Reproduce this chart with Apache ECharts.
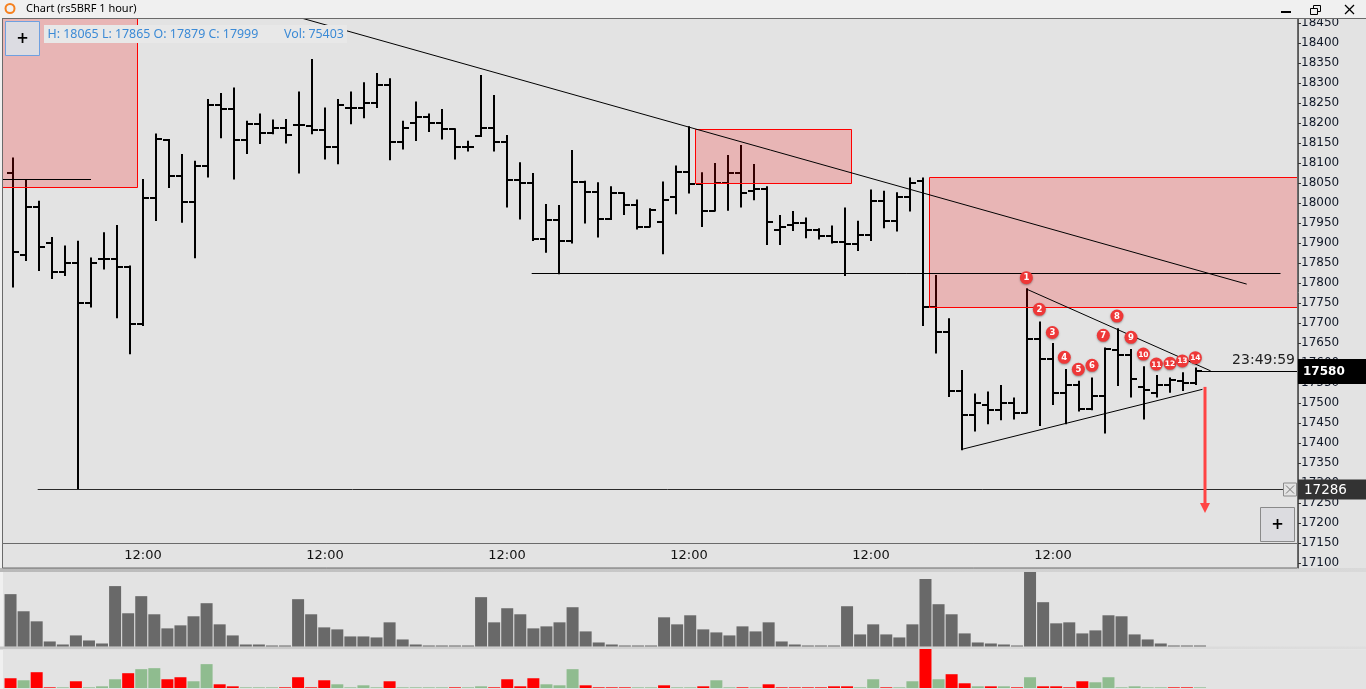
<!DOCTYPE html>
<html><head><meta charset="utf-8">
<script src="https://cdn.jsdelivr.net/npm/echarts@6/dist/echarts.min.js"></script>
<style>html,body{margin:0;padding:0;background:#f0f0f0;overflow:hidden}#c{width:1366px;height:689px}</style>
</head><body><div id="c"></div>
<script>
// ---------- DATA ----------
const times = [
 '16:00','17:00','18:00','19:00','20:00','21:00','22:00','23:00',
 '10:00','11:00','12:00','13:00','14:00','15:00','16:00','17:00','18:00','19:00','20:00','21:00','22:00','23:00',
 '10:00','11:00','12:00','13:00','14:00','15:00','16:00','17:00','18:00','19:00','20:00','21:00','22:00','23:00',
 '10:00','11:00','12:00','13:00','14:00','15:00','16:00','17:00','18:00','19:00','20:00','21:00','22:00','23:00',
 '10:00','11:00','12:00','13:00','14:00','15:00','16:00','17:00','18:00','19:00','20:00','21:00','22:00','23:00',
 '10:00','11:00','12:00','13:00','14:00','15:00','16:00','17:00','18:00','19:00','20:00','21:00','22:00','23:00',
 '10:00','11:00','12:00','13:00','14:00','15:00','16:00','17:00','18:00','19:00','20:00','21:00','22:00','23:00'
];
const opens = [18077,17871,17992,17901,17829,17852,17750,17860,17862,17842,
 17698,18014,18158,18068,18004,18094,18246,18236,18158,18198,
 18177,18188,18196,18194,18183,18142,18239,18238,18250,18296,
 18154,18202,18215,18202,18185,18142,18168,18189,18154,18058,
 18052,17912,17958,17907,18054,18029,17961,18025,17996,17942,
 17954,18015,18079,18048,17982,18052,18077,18032,18037,17933,
 17946,17952,17933,17919,17904,17898,17921,18007,17957,18015,
 18057,17742,17679,17532,17471,17496,17483,17500,17477,17662,
 17610,17527,17546,17487,17518,17633,17621,17540,17527,17546,
 17557,17552];
const highs = [18112,18058,18004,17913,17892,17904,17862,17925,17943,17842,
 18058,18172,18158,18121,18104,18258,18273,18287,18204,18222,
 18207,18208,18277,18358,18237,18258,18277,18300,18323,18310,
 18204,18252,18222,18233,18185,18154,18318,18268,18168,18100,
 18073,17996,17993,18131,18054,18050,18040,18025,18007,17985,
 18052,18092,18190,18075,18098,18118,18143,18096,18040,17968,
 17978,17962,17935,17942,17987,17954,18032,18029,18025,18062,
 18062,17818,17710,17581,17522,17527,17543,17512,17785,17702,
 17648,17583,17554,17562,17637,17685,17633,17590,17568,17562,
 17575,17587];
const lows = [17792,17858,17833,17813,17821,17286,17742,17837,17715,17625,
 17696,17958,18041,17954,17865,18067,18165,18062,18126,18151,
 18175,18152,18077,18175,18112,18100,18200,18215,18241,18110,
 18137,18158,18181,18162,18112,18132,18168,18132,17992,17962,
 17908,17879,17825,17902,17952,17917,17961,17973,17937,17942,
 17875,17975,18027,17943,17982,17984,17992,18010,17898,17898,
 17933,17915,17912,17902,17821,17883,17908,17940,17932,17982,
 17696,17627,17518,17385,17432,17450,17460,17462,17477,17446,
 17498,17450,17482,17485,17427,17546,17517,17462,17517,17529,
 17533,17548];
const closes = [17879,17992,17892,17829,17852,17750,17852,17862,17842,17698,
 18014,18160,18068,18004,18094,18246,18236,18158,18198,18177,
 18188,18171,18196,18183,18142,18246,18238,18250,18296,18154,
 18188,18215,18202,18185,18142,18142,18188,18154,18058,18052,
 17912,17958,17907,18054,18029,17961,18025,17996,17942,17983,
 18008,18079,18048,17982,18052,18077,18027,18037,17954,17942,
 17952,17933,17919,17904,17898,17921,18007,17957,18015,18052,
 17742,17679,17532,17471,17500,17483,17500,17477,17662,17610,
 17527,17546,17487,17518,17635,17621,17562,17533,17546,17558,
 17552,17580];
const volumes = [53040,35700,25500,5100,2040,11220,6120,3060,61200,33660,
 51000,32640,18360,21420,30600,43860,22440,11220,2040,2040,
 1020,1020,47940,32640,19380,17340,10200,10200,9180,24480,
 7140,2040,1020,1020,1020,1020,49980,24480,38760,32640,
 18360,20400,24480,39780,15300,4080,2040,1020,1020,1020,
 29580,22440,31620,17340,14280,11220,20400,15300,24480,5100,
 2040,1020,1020,1020,40800,12240,22440,12240,9180,22440,
 68340,42840,32640,13260,4080,3060,2040,1020,75480,44880,
 23460,24480,13260,16320,31620,30600,12240,7140,3060,1020,
 1020,1020];
const deltas = [-4350,3450,-7050,-300,300,-3000,300,750,3900,-6600,
 8400,8850,-3900,-4800,3000,10650,-1650,-750,300,300,
 300,-300,-4800,-300,-3450,1650,300,1200,300,-3000,
 300,300,300,300,-300,300,750,-300,-3900,-750,
 -4350,1650,1200,8400,-1200,-300,-300,-300,300,300,
 -1200,300,300,-750,3450,300,-300,300,-1650,-300,
 -300,-300,-300,-750,-750,300,3900,-300,300,3000,
 -17400,3900,-6150,-2100,750,-750,750,-300,4800,-750,
 -750,-300,-3000,2550,4800,300,750,300,300,-300,
 -300,300];
const priceTicks = [17100,17150,17200,17250,17300,17350,17400,17450,17500,17550,17600,17650,17700,17750,
 17800,17850,17900,17950,18000,18050,18100,18150,18200,18250,18300,18350,18400,18450];
const timeTicks = [10,24,38,52,66,80];
// drawings: [barFrom, barTo, priceLow, priceHigh]
const zones = [[-1,9.52,18040,18500],[52.48,64.48,18050,18185],[70.48,99.5,17741,18065]];
// segments: [bar1, price1, bar2, price2]
const segments = [
 [21.0,18474,94.9,17798],
 [39.9,17825,97.5,17825],
 [-1,18062,6.0,18062],
 [78.0,17785,92.13,17581],
 [73.0,17385,91.5,17535]
];
const supportLevel = 17286;
const lastPrice = 17580;
const countdown = '23:49:59';
const markerBars = [77.95,78.95,79.95,80.87,81.95,83.0,83.87,84.92,86.0,86.95,87.95,89.0,89.95,90.95];
const markerPrices = [17814,17735,17677,17615,17585,17595,17670,17718,17665,17623,17598,17600,17606,17614];
const markerLabels = ['1','2','3','4','5','6','7','8','9','10','11','12','13','14'];
const arrowPlan = [91.7,17541,17226];
const infoText = 'H: 18065 L: 17865 O: 17879 C: 17999';
const volText = 'Vol: 75403';
const titleText = 'Chart (rs5BRF 1 hour)';

// ---------- CHART ----------
const chart = echarts.init(document.getElementById('c'), null, {renderer:'canvas'});
const PL = 3, PW = 1294;
const xMin = (PL - 13) / 13, xMax = (PL + PW - 13) / 13;

const ohlcData = opens.map((o,i)=>[i,o,highs[i],lows[i],closes[i]]);
const volData = volumes.map((v,i)=>[i,v]);
const deltaData = deltas.map((d,i)=>({value:[i,Math.abs(d)], itemStyle:{color: d<0 ? '#ff0000' : '#8fbc8f'}}));

function clipRect(params){ const c = params.coordSys; return {x:c.x, y:c.y, width:c.width, height:c.height}; }

const graphics = [
 {type:'rect', z:-20, shape:{x:0,y:0,width:1366,height:689}, style:{fill:'#f0f0f0'}},
 {type:'rect', z:-10, shape:{x:3,y:18,width:1363,height:550}, style:{fill:'#e3e3e3'}},
 {type:'rect', z:-10, shape:{x:0,y:568,width:1366,height:4}, style:{fill:new echarts.graphic.LinearGradient(0,0,1,0,[{offset:0,color:'#b9b9b9'},{offset:1,color:'#d9d9d9'}])}},
 {type:'rect', z:-10, shape:{x:3,y:572,width:1363,height:75}, style:{fill:'#e3e3e3'}},
 {type:'rect', z:-10, shape:{x:0,y:646.5,width:1366,height:3}, style:{fill:new echarts.graphic.LinearGradient(0,0,1,0,[{offset:0,color:'#c4c4c4'},{offset:1,color:'#dedede'}])}},
 {type:'rect', z:-10, shape:{x:3,y:649.5,width:1363,height:40}, style:{fill:'#e3e3e3'}},
 // borders
 {type:'rect', z:50, silent:true, shape:{x:2.5,y:18.5,width:1295,height:525}, style:{fill:'none',stroke:'#6a6a6a',lineWidth:1}},
 {type:'rect', z:50, silent:true, shape:{x:2.5,y:543.5,width:1295,height:24.5}, style:{fill:'none',stroke:'#6a6a6a',lineWidth:1}},
 // title bar
 {type:'rect', z:40, shape:{x:0,y:0,width:1366,height:18}, style:{fill:'#f0f0f0'}},
 {type:'line', z:41, shape:{x1:2,y1:18.5,x2:1366,y2:18.5}, style:{stroke:'#6a6a6a',lineWidth:1}},
 {type:'circle', z:41, shape:{cx:10,cy:8.5,r:4.5}, style:{fill:'none',stroke:'#f5801e',lineWidth:2}},
 {type:'text', z:41, style:{text:titleText,x:26,y:8.5,verticalAlign:'middle',fill:'#000',fontSize:11,fontFamily:'Noto Sans'}},
 {type:'rect', z:41, shape:{x:1281,y:11,width:10,height:2}, style:{fill:'#000'}},
 {type:'rect', z:41, shape:{x:1313.5,y:5.5,width:7,height:6}, style:{fill:'none',stroke:'#000',lineWidth:1}},
 {type:'rect', z:42, shape:{x:1310.5,y:8.5,width:7,height:6}, style:{fill:'#f0f0f0',stroke:'#000',lineWidth:1}},
 {type:'line', z:41, shape:{x1:1345,y1:5,x2:1354,y2:14}, style:{stroke:'#000',lineWidth:1.2}},
 {type:'line', z:41, shape:{x1:1354,y1:5,x2:1345,y2:14}, style:{stroke:'#000',lineWidth:1.2}},
 // info box
 {type:'rect', z:45, shape:{x:44,y:25,width:303,height:18}, style:{fill:'#e8e8e8'}},
 {type:'text', z:46, style:{text:infoText,x:47.5,y:34,verticalAlign:'middle',fill:'#3b8ad6',fontSize:12.4,fontFamily:'Noto Sans'}},
 {type:'text', z:46, style:{text:volText,x:284,y:34,verticalAlign:'middle',fill:'#3b8ad6',fontSize:12.4,fontFamily:'Noto Sans'}},
 // + buttons
 {type:'rect', z:45, shape:{x:5.5,y:21.5,width:34,height:34}, style:{fill:'#dcdce2',stroke:'#6fa0e0',lineWidth:1}},
 {type:'text', z:46, style:{text:'+',x:22.5,y:39,align:'center',verticalAlign:'middle',fill:'#000',fontSize:15,fontWeight:'bold',fontFamily:'DejaVu Sans'}},
 {type:'rect', z:45, shape:{x:1260.5,y:507.5,width:34,height:34}, style:{fill:'#dcdce0',stroke:'#8a8a8a',lineWidth:1}},
 {type:'text', z:46, style:{text:'+',x:1277.5,y:525,align:'center',verticalAlign:'middle',fill:'#000',fontSize:15,fontWeight:'bold',fontFamily:'DejaVu Sans'}}
];

const option = {
 animation:false,
 backgroundColor:'#f0f0f0',
 graphic:{elements:graphics},
 grid:[
  {left:PL, top:17, width:PW, height:551, show:false},
  {left:4, top:572, width:1294, height:74.5, show:false},
  {left:4, top:649, width:1294, height:39, show:false}
 ],
 xAxis:[
  {type:'value', gridIndex:0, min:xMin, max:xMax, position:'bottom', offset:-25,
   axisLine:{show:false, onZero:false}, axisTick:{show:false}, splitLine:{show:false},
   axisLabel:{customValues:timeTicks, formatter:(v)=>times[Math.round(v)], margin:6, fontSize:13, color:'#111', fontFamily:'DejaVu Sans'}},
  {type:'value', gridIndex:1, min:-0.5, max:98.5, show:false},
  {type:'value', gridIndex:2, min:-0.5, max:98.5, show:false}
 ],
 yAxis:[
  {type:'value', gridIndex:0, position:'right', offset:1, min:17088.25, max:18465.75, scale:true,
   axisLine:{show:true, onZero:false, lineStyle:{color:'#5a5a5a', width:1}},
   axisTick:{show:true, length:3, customValues:priceTicks, lineStyle:{color:'#333'}},
   axisLabel:{customValues:priceTicks, formatter:(v)=>String(Math.round(v)), margin:3, fontSize:12, color:'#101828', fontFamily:'DejaVu Sans'},
   splitLine:{show:false}},
  {type:'value', gridIndex:1, min:0, max:75480, show:false},
  {type:'value', gridIndex:2, min:0, max:17400, show:false}
 ],
 series:[
  {type:'custom', name:'OHLC', xAxisIndex:0, yAxisIndex:0, z:3, clip:true,
   encode:{x:0, y:[1,2,3,4]}, data:ohlcData,
   renderItem:(params, api)=>{
     const i = api.value(0);
     const pO = api.coord([i, api.value(1)]), pH = api.coord([i, api.value(2)]);
     const pL = api.coord([i, api.value(3)]), pC = api.coord([i, api.value(4)]);
     const x = Math.round(pH[0]);
     const st = {stroke:'#000', lineWidth:2};
     const yo = Math.round(pO[1]), yc = Math.round(pC[1]);
     return {type:'group', children:[
       {type:'line', shape:{x1:x,y1:pH[1]-1,x2:x,y2:pL[1]+1}, style:st},
       {type:'line', shape:{x1:x-6,y1:yo,x2:x,y2:yo}, style:st},
       {type:'line', shape:{x1:x,y1:yc,x2:x+6,y2:yc}, style:st}
     ]};
   }},
  {type:'custom', name:'zones', xAxisIndex:0, yAxisIndex:0, z:4, clip:true, silent:true,
   data:zones,
   renderItem:(params, api)=>{
     const a = api.coord([api.value(0), api.value(3)]);
     const b = api.coord([api.value(1), api.value(2)]);
     const x = Math.round(a[0])+0.5, y = Math.round(a[1])+0.5;
     return {type:'rect', clipPath:{type:'rect', shape:clipRect(params)},
       shape:{x:x, y:y, width:Math.round(b[0]-a[0]), height:Math.round(b[1]-a[1])},
       style:{fill:'rgba(255,0,0,0.2)', stroke:'#ff0000', lineWidth:1}};
   }},
  {type:'custom', name:'lines', xAxisIndex:0, yAxisIndex:0, z:5, clip:true, silent:true,
   data:segments,
   renderItem:(params, api)=>{
     const a = api.coord([api.value(0), api.value(1)]);
     const b = api.coord([api.value(2), api.value(3)]);
     const flat = api.value(1) === api.value(3);
     const ya = flat ? Math.round(a[1])+0.5 : a[1], yb = flat ? Math.round(b[1])+0.5 : b[1];
     return {type:'line', clipPath:{type:'rect', shape:clipRect(params)},
       shape:{x1:a[0],y1:ya,x2:b[0],y2:yb}, style:{stroke:'#000', lineWidth:1}};
   }},
  {type:'custom', name:'support', xAxisIndex:0, yAxisIndex:0, z:5, clip:false, silent:true,
   data:[[1.9, supportLevel]],
   renderItem:(params, api)=>{
     const a = api.coord([api.value(0), api.value(1)]);
     const c = params.coordSys;
     const y = Math.round(a[1])+0.5;
     const right = c.x + c.width;
     return {type:'group', children:[
       {type:'line', shape:{x1:a[0],y1:y,x2:right,y2:y}, style:{stroke:'#2a2a2a', lineWidth:1}},
       {type:'rect', shape:{x:right-13.5,y:y-6.5,width:13,height:13}, style:{fill:'#e3e3e3',stroke:'#8a8a8a',lineWidth:1}},
       {type:'line', shape:{x1:right-11,y1:y-4,x2:right-3,y2:y+4}, style:{stroke:'#777',lineWidth:1}},
       {type:'line', shape:{x1:right-3,y1:y-4,x2:right-11,y2:y+4}, style:{stroke:'#777',lineWidth:1}},
       {type:'rect', shape:{x:right+1,y:y-10,width:70,height:20}, style:{fill:'#333'}},
       {type:'text', style:{text:String(api.value(1)),x:right+7,y:y+0.5,verticalAlign:'middle',fill:'#fff',fontSize:13.5,fontFamily:'DejaVu Sans'}}
     ]};
   }},
  {type:'custom', name:'last', xAxisIndex:0, yAxisIndex:0, z:7, clip:false, silent:true,
   data:[[91.45, lastPrice]],
   renderItem:(params, api)=>{
     const a = api.coord([api.value(0), api.value(1)]);
     const c = params.coordSys;
     const y = Math.round(a[1])+0.5;
     const right = c.x + c.width;
     return {type:'group', children:[
       {type:'line', shape:{x1:a[0],y1:y,x2:right,y2:y}, style:{stroke:'#000', lineWidth:1}},
       {type:'rect', shape:{x:right+1,y:y-12.5,width:70,height:25}, style:{fill:'#000'}},
       {type:'text', style:{text:String(api.value(1)),x:right+6,y:y+0.5,verticalAlign:'middle',fill:'#fff',fontSize:12,fontWeight:'bold',fontFamily:'DejaVu Sans'}},
       {type:'text', style:{text:countdown,x:right-2,y:y-11,align:'right',verticalAlign:'middle',fill:'#222',fontSize:14,fontFamily:'DejaVu Sans'}}
     ]};
   }},
  {type:'custom', name:'arrow', xAxisIndex:0, yAxisIndex:0, z:6, clip:true, silent:true,
   data:[arrowPlan],
   renderItem:(params, api)=>{
     const t = api.coord([api.value(0), api.value(1)]);
     const b = api.coord([api.value(0), api.value(2)]);
     const x = Math.round(t[0]);
     return {type:'group', children:[
       {type:'line', shape:{x1:x,y1:t[1],x2:x,y2:b[1]-8}, style:{stroke:'#ff4444', lineWidth:3}},
       {type:'polygon', shape:{points:[[x-5,b[1]-10],[x+5,b[1]-10],[x,b[1]]]}, style:{fill:'#ff4444'}}
     ]};
   }},
  {type:'custom', name:'markers', xAxisIndex:0, yAxisIndex:0, z:8, clip:false, silent:true,
   data:markerBars.map((b,i)=>[b, markerPrices[i], i]),
   renderItem:(params, api)=>{
     const p = api.coord([api.value(0), api.value(1)]);
     const lab = markerLabels[api.value(2)];
     return {type:'group', children:[
       {type:'circle', shape:{cx:p[0],cy:p[1],r:6.5}, style:{fill:'#ee3838', shadowBlur:2, shadowColor:'rgba(0,0,0,0.35)', shadowOffsetY:1}},
       {type:'text', style:{text:lab,x:p[0],y:p[1]+0.5,align:'center',verticalAlign:'middle',fill:'#fff',fontSize:lab.length>1?7.5:8.5,fontWeight:'bold',fontFamily:'DejaVu Sans'}}
     ]};
   }},
  {type:'bar', name:'Volume', xAxisIndex:1, yAxisIndex:1, data:volData, barWidth:12,
   itemStyle:{color:'#696969'}, silent:true},
  {type:'bar', name:'Delta', xAxisIndex:2, yAxisIndex:2, data:deltaData, barWidth:12, silent:true}
 ]
};
chart.setOption(option);
</script>
</body></html>
